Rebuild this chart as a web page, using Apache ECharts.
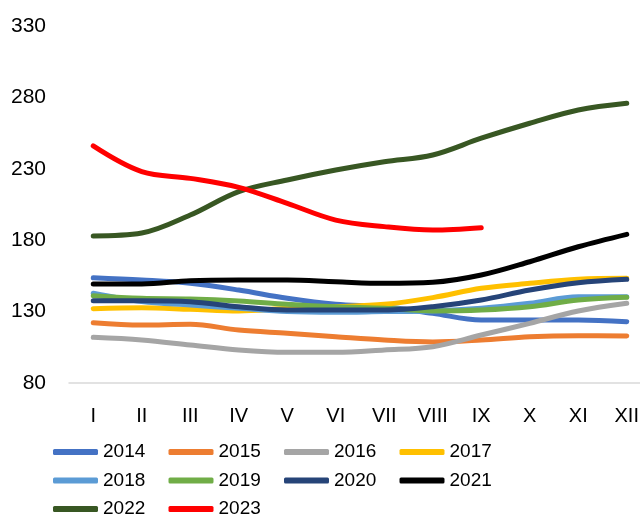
<!DOCTYPE html>
<html><head><meta charset="utf-8">
<script src="https://cdn.jsdelivr.net/npm/echarts@6/dist/echarts.min.js"></script>
<style>html,body{margin:0;padding:0;background:#fff}#c{width:640px;height:515px}</style>
</head><body><div id="c"></div>
<script>
const months = ['I','II','III','IV','V','VI','VII','VIII','IX','X','XI','XII'];
const yTicks = [80,130,180,230,280,330];
const s2014 = [153.7,152.1,149.8,145.1,139.3,135.1,133.4,128.8,124.1,124.1,124.1,122.9];
const s2015 = [122.2,120.6,121.1,117.1,114.8,112.4,110.1,108.7,110.1,112.4,113.1,113.0];
const s2016 = [112.0,110.1,106.6,103.1,101.5,101.5,103.1,105.4,113.6,121.8,130.4,135.8];
const s2017 = [132.0,132.7,131.6,130.4,132.3,133.4,135.1,139.8,146.3,149.8,152.6,153.3];
const s2018 = [142.8,137.0,134.6,132.3,130.0,129.5,130.0,130.4,132.3,135.8,140.4,140.4];
const s2019 = [141.1,139.3,138.8,137.4,135.1,133.4,132.3,130.5,131.1,133.4,138.1,140.0];
const s2020 = [137.6,137.6,136.9,133.4,131.1,131.1,131.1,133.4,138.1,145.1,150.2,152.6];
const s2021 = [149.3,149.3,151.6,152.1,152.1,150.9,149.8,150.5,155.6,164.9,175.4,184.1];
const s2022 = [183.0,185.0,197.6,214.0,222.2,229.2,235.0,239.7,251.4,261.9,271.2,275.9];
const s2023 = [246.0,228.0,223.3,217.0,205.8,194.1,189.5,187.1,188.8];

const seriesNames = ['2014','2015','2016','2017','2018','2019','2020','2021','2022','2023'];
const seriesData = [s2014,s2015,s2016,s2017,s2018,s2019,s2020,s2021,s2022,s2023];
const colors = ['#4472C4','#ED7D31','#A5A5A5','#FFC000','#5B9BD5','#70AD47','#264478','#000000','#385723','#FF0000'];

const chart = echarts.init(document.getElementById('c'), null, {renderer:'canvas'});
chart.setOption({
  animation:false,
  color: colors,
  textStyle:{fontFamily:'Liberation Sans'},
  grid:{left:69, width:582, top:26, height:357, containLabel:false, outerBoundsMode:'none'},
  xAxis:{
    type:'category', data: months, boundaryGap:true,
    axisLine:{show:true, lineStyle:{color:'#D9D9D9', width:1.5}},
    axisTick:{show:false},
    axisLabel:{color:'#000', fontSize:20, margin:23, interval:0}
  },
  yAxis:{
    type:'value', min:yTicks[0], max:yTicks[yTicks.length-1], interval:50,
    axisLine:{show:false}, axisTick:{show:false}, splitLine:{show:false},
    axisLabel:{color:'#000', fontSize:21, margin:23}
  },
  legend:{
    left:53, top:442, width:470, padding:0, orient:'horizontal',
    itemWidth:45, itemHeight:6, itemGap:8.5, icon:'roundRect',
    textStyle:{color:'#000', fontSize:19, width:57, lineHeight:20},
    data: seriesNames
  },
  series: seriesNames.map((n,i)=>({
    name:n, type:'line', data: seriesData[i], smooth:0.35, symbol:'none',
    lineStyle:{width:5, color:colors[i], cap:'round', join:'round'},
    itemStyle:{color:colors[i]}
  }))
});
</script></body></html>
